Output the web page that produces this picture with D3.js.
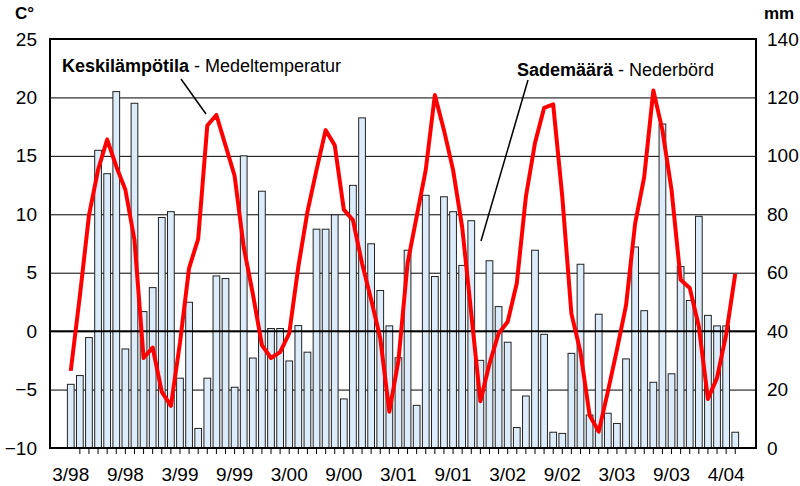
<!DOCTYPE html>
<html>
<head>
<meta charset="utf-8">
<script src="https://cdn.jsdelivr.net/npm/d3@7"></script>
<style>
  body { margin: 0; background: #fff; }
  svg { font-family: "Liberation Sans", Arial, sans-serif; }
</style>
</head>
<body>
<div id="chart"></div>
<script>
// data: 3/1998 .. 4/2004, one value per month
var temperature = [
  -3.4, 3.0, 9.9, 13.8, 16.4, 14.1, 12.1, 7.8, -2.3, -1.4,
  -5.2, -6.4, -1.0, 5.4, 7.9, 17.6, 18.5, 15.9, 13.3, 7.2,
  3.2, -1.2, -2.3, -1.8, -0.2, 5.5, 10.2, 13.8, 17.2, 15.9,
  10.4, 9.5, 5.8, 2.7, -0.6, -6.9, -2.5, 5.8, 9.8, 13.8,
  20.2, 17.2, 13.8, 8.9, 1.5, -6.0, -2.8, -0.2, 0.8, 4.1,
  11.5, 16.1, 19.1, 19.4, 11.5, 1.5, -1.8, -7.2, -8.6, -5.2,
  -1.6, 2.2, 9.2, 13.2, 20.6, 17.2, 12.1, 4.4, 3.7, 0.4,
  -5.8, -4.0, -0.3, 4.9
];
var precipitation = [
  21.8, 24.8, 37.8, 101.9, 93.9, 122.0, 33.9, 118.0, 46.7, 54.9,
  78.9, 80.9, 23.9, 49.9, 6.7, 23.9, 58.9, 58.0, 20.8, 100.0,
  30.8, 87.9, 40.9, 40.9, 29.8, 41.9, 32.8, 74.9, 74.9, 79.8,
  16.8, 89.9, 113.0, 69.9, 53.9, 41.8, 30.9, 67.7, 14.6, 86.5,
  58.7, 86.0, 80.9, 62.5, 77.8, 30.0, 64.1, 48.4, 36.2, 7.0,
  17.8, 67.7, 38.9, 5.4, 5.0, 32.4, 62.9, 11.3, 45.8, 11.9,
  8.4, 30.5, 68.8, 47.0, 22.5, 110.9, 25.4, 62.1, 50.5, 79.3,
  45.4, 41.8, 41.8, 5.4
];
// month categories
var months = [];
for (var k = 0; k < temperature.length; k++) {
  var m = (2 + k) % 12 + 1, yr = 1998 + Math.floor((2 + k) / 12);
  months.push(m + '/' + String(yr).slice(2));
}
var xLabels = ['3/98', '9/98', '3/99', '9/99', '3/00', '9/00', '3/01', '9/01', '3/02', '9/02', '3/03', '9/03', '4/04'];
var xLabelIdx = [0, 6, 12, 18, 24, 30, 36, 42, 48, 54, 60, 66, 72];
var tempTicks = [-10, -5, 0, 5, 10, 15, 20, 25];
var mmTicks = [0, 20, 40, 60, 80, 100, 120, 140];

var width = 800, height = 486;
var plotL = 50, plotR = 756, plotT = 39, plotB = 448;

var svg = d3.select('#chart').append('svg')
  .attr('width', width)
  .attr('height', height);

var x = d3.scaleBand()
  .domain(d3.range(months.length))
  .range([66.2, 739.8])
  .paddingInner(0.26)
  .paddingOuter(0.13);

var yT = d3.scaleLinear().domain([-10, 25]).range([plotB, plotT]);
var yP = d3.scaleLinear().domain([0, 140]).range([plotB, plotT]);

// gridlines + left labels
var gLeft = svg.append('g')
  .attr('transform', 'translate(' + plotL + ',0)')
  .call(d3.axisLeft(yT).tickValues(tempTicks).tickSize(-(plotR - plotL)).tickPadding(13));
gLeft.select('.domain').remove();
gLeft.selectAll('line').attr('stroke', '#000').attr('stroke-width', 1);
gLeft.selectAll('text').attr('font-size', 19).attr('fill', '#000');

// right labels
var gRight = svg.append('g')
  .attr('transform', 'translate(' + plotR + ',0)')
  .call(d3.axisRight(yP).tickValues(mmTicks).tickSize(0).tickPadding(11));
gRight.select('.domain').remove();
gRight.selectAll('text').attr('font-size', 19).attr('fill', '#000');
gLeft.attr('font-family', null).attr('font-size', null);
gRight.attr('font-family', null).attr('font-size', null);

// precipitation bars
svg.append('g').selectAll('rect')
  .data(precipitation)
  .join('rect')
  .attr('x', (d, i) => x(i))
  .attr('y', d => yP(d))
  .attr('width', x.bandwidth())
  .attr('height', d => yP(0) - yP(d))
  .attr('fill', '#dcecfa')
  .attr('stroke', '#222')
  .attr('stroke-width', 1);

// zero line
svg.append('line')
  .attr('x1', plotL).attr('x2', plotR)
  .attr('y1', yT(0)).attr('y2', yT(0))
  .attr('stroke', '#000').attr('stroke-width', 2);

// month ticks
var gBottom = svg.append('g')
  .attr('transform', 'translate(0,' + plotB + ')')
  .call(d3.axisBottom(x).tickValues(d3.range(1, months.length)).tickSize(6).tickFormat(''));
gBottom.select('.domain').remove();
gBottom.selectAll('line').attr('stroke', '#000');

svg.append('g').selectAll('text')
  .data(xLabels)
  .join('text')
  .attr('x', (d, i) => x(xLabelIdx[i]) + x.bandwidth() / 2)
  .attr('y', 481)
  .attr('text-anchor', 'middle')
  .attr('font-size', 19)
  .text(d => d);

// frame
svg.append('rect')
  .attr('x', plotL).attr('y', plotT)
  .attr('width', plotR - plotL).attr('height', plotB - plotT)
  .attr('fill', 'none').attr('stroke', '#000').attr('stroke-width', 2);

// temperature line
var line = d3.line()
  .x((d, i) => x(i) + x.bandwidth() / 2)
  .y(d => yT(d));

svg.append('path')
  .datum(temperature)
  .attr('d', line)
  .attr('fill', 'none')
  .attr('stroke', '#ff0000')
  .attr('stroke-width', 4)
  .attr('stroke-linejoin', 'round');

// unit titles
svg.append('text').attr('x', 15).attr('y', 19).attr('font-size', 17).attr('font-weight', 'bold').text('C°');
svg.append('text').attr('x', 764).attr('y', 19).attr('font-size', 17).attr('font-weight', 'bold').text('mm');

// series labels with leader lines
var t1 = svg.append('text').attr('x', 62).attr('y', 72).attr('font-size', 18);
t1.append('tspan').attr('font-weight', 'bold').text('Keskilämpötila');
t1.append('tspan').text(' - Medeltemperatur');
svg.append('line')
  .attr('x1', 181).attr('y1', 79).attr('x2', 206).attr('y2', 114)
  .attr('stroke', '#000').attr('stroke-width', 1.5);

var t2 = svg.append('text').attr('x', 517).attr('y', 76).attr('font-size', 18);
t2.append('tspan').attr('font-weight', 'bold').text('Sademäärä');
t2.append('tspan').text(' - Nederbörd');
svg.append('line')
  .attr('x1', 528).attr('y1', 80).attr('x2', 481).attr('y2', 241)
  .attr('stroke', '#000').attr('stroke-width', 1.5);
</script>
</body>
</html>
